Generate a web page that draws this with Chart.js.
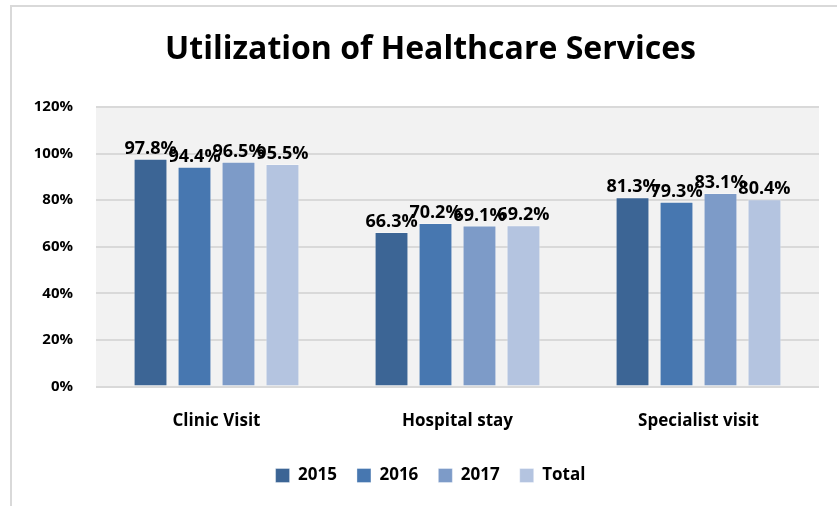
<!DOCTYPE html>
<html lang="en">
<head>
    <meta charset="UTF-8">
    <title>Utilization of Healthcare Services</title>
    <script src="https://cdn.jsdelivr.net/npm/chart.js"></script>
    <style>
        body { margin: 0; background: #fff; overflow: hidden; }
        #frame { position: absolute; left: 10px; top: 5px; width: 900px; height: 600px;
                 border-left: 2px solid #d9d9d9; border-top: 2px solid #d9d9d9; }
        #wrap { position: absolute; left: 0; top: 0; width: 837px; height: 506px; }
    </style>
</head>
<body>
    <div id="frame"></div>
    <div id="wrap"><canvas id="utilChart"></canvas></div>

    <script>
        // Chart data
        const chartTitle = 'Utilization of Healthcare Services';
        const categories = ['Clinic Visit', 'Hospital stay', 'Specialist visit'];
        const seriesNames = ['2015', '2016', '2017', 'Total'];
        const values2015 = [97.8, 66.3, 81.3];
        const values2016 = [94.4, 70.2, 79.3];
        const values2017 = [96.5, 69.1, 83.1];
        const valuesTotal = [95.5, 69.2, 80.4];
        const yTicks = [0, 20, 40, 60, 80, 100, 120];

        const colors = ['#3c6595', '#4777b0', '#7d9bc8', '#b4c4e0'];
        const fontFamily = '"Open Sans", Lato, sans-serif';

        // grey plot area
        const plotBackground = {
            id: 'plotBackground',
            beforeDraw(chart) {
                const { ctx, chartArea: a } = chart;
                ctx.save();
                ctx.fillStyle = '#f2f2f2';
                ctx.fillRect(a.left, a.top, a.right - a.left, a.bottom - a.top);
                ctx.restore();
            }
        };

        // title centred on the outer chart frame (which starts at x=10)
        const frameTitle = {
            id: 'frameTitle',
            afterDraw(chart) {
                const ctx = chart.ctx;
                ctx.save();
                ctx.font = 'bold 32px ' + fontFamily;
                ctx.fillStyle = '#000';
                ctx.textAlign = 'center';
                ctx.textBaseline = 'middle';
                ctx.fillText(chartTitle, chart.width / 2 + 12, 50);
                ctx.restore();
            }
        };

        // value labels above each bar
        const barLabels = {
            id: 'barLabels',
            afterDatasetsDraw(chart) {
                const ctx = chart.ctx;
                ctx.save();
                ctx.font = 'bold 18px ' + fontFamily;
                ctx.fillStyle = '#000';
                ctx.textAlign = 'center';
                ctx.textBaseline = 'bottom';
                chart.data.datasets.forEach((ds, di) => {
                    chart.getDatasetMeta(di).data.forEach((bar, i) => {
                        ctx.fillText(ds.data[i].toFixed(1) + '%', bar.x, bar.y - 1);
                    });
                });
                ctx.restore();
            }
        };

        const seriesValues = [values2015, values2016, values2017, valuesTotal];

        new Chart(document.getElementById('utilChart'), {
            type: 'bar',
            data: {
                labels: categories,
                datasets: seriesNames.map((name, i) => ({
                    label: name,
                    data: seriesValues[i],
                    backgroundColor: colors[i],
                    borderColor: 'rgba(255,255,255,0.35)',
                    borderWidth: 1,
                    categoryPercentage: 0.73,
                    barPercentage: 0.77
                }))
            },
            options: {
                responsive: true,
                maintainAspectRatio: false,
                animation: false,
                layout: { padding: { left: 42, right: 18, top: 107, bottom: 12 } },
                plugins: {
                    title: { display: false },
                    legend: {
                        position: 'bottom',
                        labels: {
                            color: '#000',
                            font: { family: fontFamily, size: 17, weight: 'bold' },
                            boxWidth: 14,
                            boxHeight: 14,
                            padding: 20
                        }
                    },
                    tooltip: { enabled: false }
                },
                scales: {
                    x: {
                        grid: { display: false },
                        border: { display: false },
                        ticks: {
                            color: '#000',
                            font: { family: fontFamily, size: 17, weight: 'bold' },
                            padding: 16
                        }
                    },
                    y: {
                        min: 0,
                        max: 120,
                        afterBuildTicks(axis) {
                            axis.ticks = yTicks.map(v => ({ value: v }));
                        },
                        afterFit(axis) {
                            axis.width = 54;
                            // labels reach left of the axis box, so don't clip them
                            axis._computeLabelArea = () => null;
                        },
                        grid: { color: '#d9d9d9', lineWidth: 2, drawTicks: false },
                        border: { display: false },
                        ticks: {
                            color: '#000',
                            font: { family: fontFamily, size: 15, weight: 'bold' },
                            padding: 23,
                            callback: v => v + '%'
                        }
                    }
                }
            },
            plugins: [plotBackground, barLabels, frameTitle]
        });
    </script>
</body>
</html>
